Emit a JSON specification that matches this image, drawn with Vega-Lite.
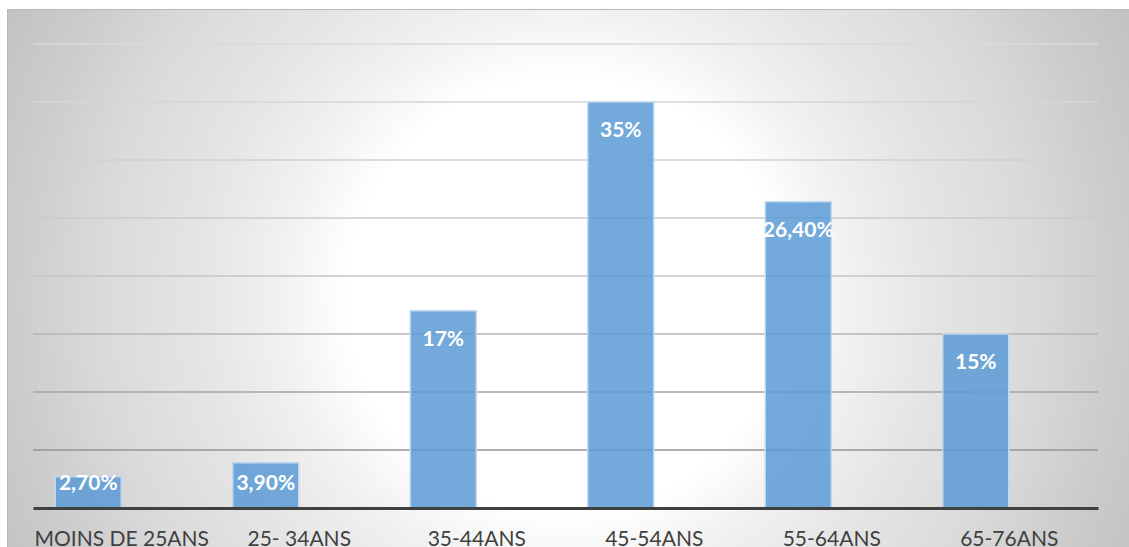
{
  "$schema": "https://vega.github.io/schema/vega-lite/v6.json",
  "width": 1122,
  "height": 538,
  "padding": {"left": 7, "top": 9, "right": 0, "bottom": 0},
  "autosize": {"type": "none"},
  "background": "#ffffff",
  "config": {
    "font": "Lato",
    "view": {
      "fill": {
        "gradient": "radial",
        "x1": 0.4973, "y1": 0.5152, "r1": 0,
        "x2": 0.4973, "y2": 0.5152, "r2": 0.5526,
        "stops": [
          {"offset": 0, "color": "#ffffff"},
          {"offset": 0.35, "color": "#ffffff"},
          {"offset": 0.46, "color": "#f1f1f1"},
          {"offset": 0.589, "color": "#e5e5e5"},
          {"offset": 0.75, "color": "#dadada"},
          {"offset": 0.879, "color": "#cdcdcd"},
          {"offset": 1, "color": "#c3c3c3"}
        ]
      },
      "stroke": "#b8b8b8",
      "strokeWidth": 1
    }
  },
  "datasets": {
    "ages": [
      {"tranche": "MOINS DE 25ANS", "part": 2.7, "etiquette": "2,70%"},
      {"tranche": "25- 34ANS", "part": 3.9, "etiquette": "3,90%"},
      {"tranche": "35-44ANS", "part": 17, "etiquette": "17%"},
      {"tranche": "45-54ANS", "part": 35, "etiquette": "35%"},
      {"tranche": "55-64ANS", "part": 26.4, "etiquette": "26,40%"},
      {"tranche": "65-76ANS", "part": 15, "etiquette": "15%"}
    ],
    "grille": [
      {"niveau": 5}, {"niveau": 10}, {"niveau": 15}, {"niveau": 20},
      {"niveau": 25}, {"niveau": 30}, {"niveau": 35}, {"niveau": 40}
    ]
  },
  "layer": [
    {
      "data": {"name": "grille"},
      "mark": {"type": "rule", "strokeWidth": 1.3},
      "encoding": {
        "x": {"datum": "MOINS DE 25ANS", "type": "nominal", "bandPosition": 0,
          "scale": {"domain": ["MOINS DE 25ANS", "25- 34ANS", "35-44ANS", "45-54ANS", "55-64ANS", "65-76ANS"], "range": [26, 1091], "paddingInner": 0, "paddingOuter": 0},
          "axis": {"title": null, "orient": "bottom", "offset": -39, "bandPosition": 0.5, "domainColor": "#404040", "domainWidth": 3,
            "ticks": false, "tickSize": 0, "labelPadding": 37.5, "labelBaseline": "alphabetic",
            "labelFont": "Lato", "labelFontSize": 21, "labelColor": "#404040", "labelAngle": 0, "labelLimit": 0,
            "grid": false, "labelOverlap": false, "zindex": 1}},
        "x2": {"datum": "65-76ANS", "bandPosition": 1},
        "y": {"field": "niveau", "type": "quantitative", "axis": null,
          "scale": {"domain": [-3.362, 43.017], "nice": false, "zero": false}},
        "color": {"field": "niveau", "type": "quantitative", "legend": null,
          "scale": {"domain": [5, 10, 15, 20, 25, 30, 35, 40],
            "range": ["#949494", "#a4a4a4", "#b4b4b4", "#c4c4c4", "#cbcbcb", "#d0d0d0", "#d6d6d6", "#dadada"]}}
      }
    },
    {
      "data": {"name": "ages"},
      "mark": {"type": "bar", "width": 66, "xOffset": -33.5, "fill": "#5b9bd5", "fillOpacity": 0.85, "stroke": "#c0d8ef", "strokeWidth": 1.5},
      "encoding": {
        "x": {"field": "tranche", "type": "nominal", "sort": null,
          "scale": {"domain": ["MOINS DE 25ANS", "25- 34ANS", "35-44ANS", "45-54ANS", "55-64ANS", "65-76ANS"], "range": [26, 1091], "paddingInner": 0, "paddingOuter": 0},
          "axis": {"title": null, "orient": "bottom", "offset": -39, "bandPosition": 0.5, "domainColor": "#404040", "domainWidth": 3,
            "ticks": false, "tickSize": 0, "labelPadding": 37.5, "labelBaseline": "alphabetic",
            "labelFont": "Lato", "labelFontSize": 21, "labelColor": "#404040", "labelAngle": 0, "labelLimit": 0,
            "grid": false, "labelOverlap": false, "zindex": 1}},
        "y": {"field": "part", "type": "quantitative", "axis": null,
          "scale": {"domain": [-3.362, 43.017], "nice": false, "zero": false}},
        "y2": {"datum": 0}
      }
    },
    {
      "data": {"name": "ages"},
      "transform": [{"filter": "datum.part >= 10"}],
      "mark": {"type": "text", "xOffset": -33.5, "dy": 29, "align": "center", "baseline": "middle",
        "font": "Lato", "fontWeight": "bold", "fontSize": 21, "fill": "#ffffff"},
      "encoding": {
        "x": {"field": "tranche", "type": "nominal", "sort": null},
        "y": {"field": "part", "type": "quantitative"},
        "text": {"field": "etiquette"}
      }
    },
    {
      "data": {"name": "ages"},
      "transform": [{"filter": "datum.part < 10"}],
      "mark": {"type": "text", "xOffset": -33.5, "dy": -24, "align": "center", "baseline": "middle",
        "font": "Lato", "fontWeight": "bold", "fontSize": 21, "fill": "#ffffff"},
      "encoding": {
        "x": {"field": "tranche", "type": "nominal", "sort": null},
        "y": {"datum": 0, "type": "quantitative"},
        "text": {"field": "etiquette"}
      }
    }
  ]
}
